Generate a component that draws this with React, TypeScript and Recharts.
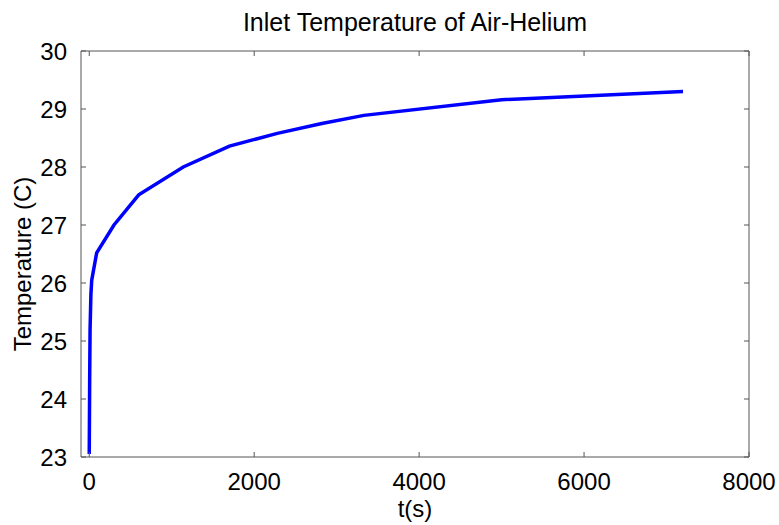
import { LineChart, Line, XAxis, YAxis } from "recharts";

// inlet temperature log, time in seconds vs degrees C
const TIME_S = [0, 5, 10, 20, 30, 90, 300, 600, 1140, 1700, 2280, 2820, 3330, 5000, 7200];
const TEMP_C = [23.05, 24.3, 25.2, 25.8, 26.05, 26.52, 27.0, 27.52, 28.0, 28.36, 28.58, 28.75, 28.89, 29.16, 29.3];

const X_TICKS = [0, 2000, 4000, 6000, 8000];
const Y_TICKS = [23, 24, 25, 26, 27, 28, 29, 30];
const X_DOMAIN = [-100, 8000];
const Y_DOMAIN = [23, 30];

const FONT = '"Liberation Sans", Arial, Helvetica, sans-serif';
const AXIS_COLOR = "#555";

const points = TIME_S.map((t, i) => ({ t, temp: TEMP_C[i] }));

const tickStyle = { fontSize: 24, fill: "#000", fontFamily: FONT };
const blank = () => "";

// thin mirrored axes draw the box and the inward tick marks,
// the wider ones only carry the labels
export default function App() {
	return (
		<div style={{ position: "absolute", left: 0, top: 0, width: 779, height: 525, background: "#fff", fontFamily: FONT }}>
			<LineChart width={779}
			           height={525}
			           data={points}
			           margin={{ top: 51, right: 30, bottom: 0, left: 0 }}>
				<XAxis xAxisId="bt"
				       dataKey="t"
				       type="number"
				       domain={X_DOMAIN}
				       ticks={X_TICKS}
				       allowDataOverflow
				       height={1}
				       mirror
				       stroke={AXIS_COLOR}
				       tickSize={5}
				       tickFormatter={blank} />
				<XAxis dataKey="t"
				       type="number"
				       domain={X_DOMAIN}
				       ticks={X_TICKS}
				       allowDataOverflow
				       height={68}
				       axisLine={false}
				       tickLine={false}
				       tickMargin={10}
				       tick={tickStyle} />
				<XAxis xAxisId="top"
				       orientation="top"
				       dataKey="t"
				       type="number"
				       domain={X_DOMAIN}
				       ticks={X_TICKS}
				       allowDataOverflow
				       height={1}
				       mirror
				       stroke={AXIS_COLOR}
				       tickSize={5}
				       tickFormatter={blank} />
				<YAxis yAxisId="lt"
				       type="number"
				       domain={Y_DOMAIN}
				       ticks={Y_TICKS}
				       allowDataOverflow
				       width={1}
				       mirror
				       stroke={AXIS_COLOR}
				       tickSize={5}
				       tickFormatter={blank} />
				<YAxis type="number"
				       domain={Y_DOMAIN}
				       ticks={Y_TICKS}
				       allowDataOverflow
				       width={81}
				       axisLine={false}
				       tickLine={false}
				       tickMargin={8}
				       tick={tickStyle} />
				<YAxis yAxisId="right"
				       orientation="right"
				       type="number"
				       domain={Y_DOMAIN}
				       ticks={Y_TICKS}
				       allowDataOverflow
				       width={1}
				       mirror
				       stroke={AXIS_COLOR}
				       tickSize={5}
				       tickFormatter={blank} />
				<Line dataKey="temp"
				      type="linear"
				      stroke="#0000ff"
				      strokeWidth={3.5}
				      dot={false}
				      isAnimationActive={false} />
			</LineChart>
			<div style={{ position: "absolute", top: 7, left: 82, width: 666, textAlign: "center", fontSize: 25, lineHeight: "30px", color: "#000" }}>
				Inlet Temperature of Air-Helium
			</div>
			<div style={{ position: "absolute", top: 494, left: 82, width: 666, textAlign: "center", fontSize: 24, lineHeight: "30px", color: "#000" }}>
				t(s)
			</div>
			<div style={{ position: "absolute", left: 23, top: 264, width: 0, height: 0 }}>
				<div style={{ position: "absolute", left: -130, top: -15, width: 260, textAlign: "center", fontSize: 24, lineHeight: "30px", color: "#000", transform: "rotate(-90deg)", whiteSpace: "nowrap" }}>
					Temperature (C)
				</div>
			</div>
		</div>
	);
}
